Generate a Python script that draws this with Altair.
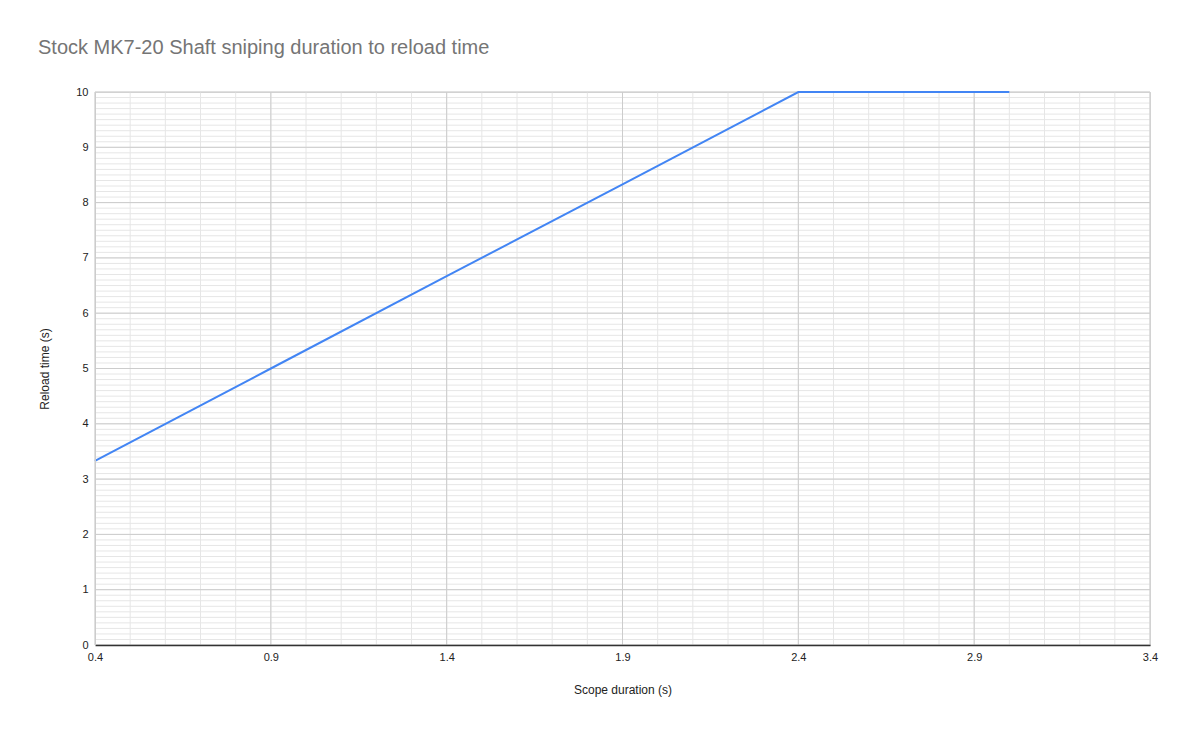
import altair as alt
import pandas as pd

scope = [0.4, 0.9, 1.4, 1.9, 2.4, 2.9, 3.0]
reload_t = [3.33, 5.0, 6.67, 8.33, 10.0, 10.0, 10.0]

x_major = [0.4, 0.9, 1.4, 1.9, 2.4, 2.9, 3.4]
x_minor = [round(0.4 + 0.1 * i, 1) for i in range(31)]
y_major = list(range(0, 11))
y_minor = [round(0.1 * i, 1) for i in range(101)]

df = pd.DataFrame({"scope": scope, "reload": reload_t})

xs = alt.Scale(domain=[0.4, 3.4], nice=False, zero=False)
ys = alt.Scale(domain=[0, 10], nice=False)

W, H = 1055, 553

minor_c = "#e6e6e6"
major_c = "#cccccc"

x_axis = alt.Axis(values=x_major, format=".1f", grid=False, ticks=False,
                  domainColor="#333333", domainWidth=1.5, labelFlush=False,
                  labelPadding=6, titlePadding=22, zindex=1)
y_axis = alt.Axis(values=y_major, grid=False, ticks=False, labelFlush=False,
                  domainColor=major_c, labelPadding=7, titlePadding=24, zindex=1)
x_title = "Scope duration (s)"
y_title = "Reload time (s)"

vx_min = alt.Chart(pd.DataFrame({"v": x_minor})).mark_rule(color=minor_c, strokeWidth=1).encode(
    x=alt.X("v:Q", scale=xs, axis=x_axis, title=x_title))
vy_min = alt.Chart(pd.DataFrame({"v": y_minor})).mark_rule(color=minor_c, strokeWidth=1).encode(
    y=alt.Y("v:Q", scale=ys, axis=y_axis, title=y_title))
vx_maj = alt.Chart(pd.DataFrame({"v": x_major})).mark_rule(color=major_c, strokeWidth=1).encode(
    x=alt.X("v:Q", scale=xs, axis=x_axis, title=x_title))
vy_maj = alt.Chart(pd.DataFrame({"v": y_major})).mark_rule(color=major_c, strokeWidth=1).encode(
    y=alt.Y("v:Q", scale=ys, axis=y_axis, title=y_title))

line = alt.Chart(df).mark_line(color="#4285F4", strokeWidth=2, clip=False).encode(
    x=alt.X("scope:Q", scale=xs, title=x_title, axis=x_axis),
    y=alt.Y("reload:Q", scale=ys, title=y_title, axis=y_axis),
)

chart = alt.layer(vx_min, vy_min, vx_maj, vy_maj, line).properties(
    width=W, height=H,
    autosize=alt.AutoSizeParams(type="none"),
    padding={"left": 87, "top": 84, "right": 29, "bottom": 82},
    title=alt.TitleParams(
        "Stock MK7-20 Shaft sniping duration to reload time",
        anchor="start", frame="group", dx=-57, offset=28,
        font="Liberation Sans", fontSize=20, fontWeight="normal", color="#757575"),
).configure_view(stroke=major_c).configure_axis(
    labelFont="Liberation Sans", labelFontSize=11, labelColor="#222222",
    titleFont="Liberation Sans", titleFontSize=12, titleFontWeight="normal", titleColor="#222222",
)

chart.save("out.html", embed_options={"renderer": "svg", "actions": False})
